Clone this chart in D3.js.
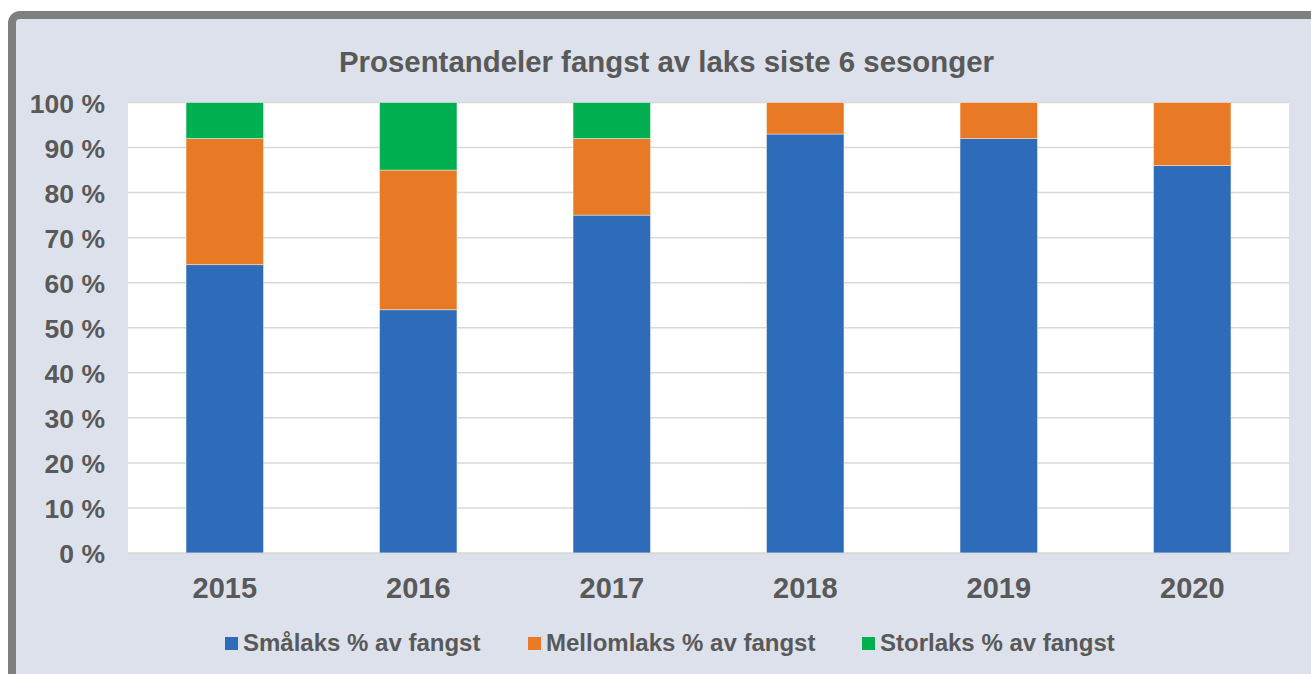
<!DOCTYPE html>
<html>
<head>
<meta charset="utf-8">
<script src="https://cdn.jsdelivr.net/npm/d3@7"></script>
<style>
  body { margin: 0; background: #fff; }
  svg text { font-family: Arial, "Liberation Sans", sans-serif; font-weight: bold; fill: #595959; }
</style>
</head>
<body>
<svg id="chart" width="1311" height="674"></svg>
<script>
// data
const years = ["2015", "2016", "2017", "2018", "2019", "2020"];
const smalaks = [64, 54, 75, 93, 92, 86];
const mellomlaks = [28, 31, 17, 7, 8, 14];
const storlaks = [8, 15, 8, 0, 0, 0];
const seriesNames = ["Smålaks % av fangst", "Mellomlaks % av fangst", "Storlaks % av fangst"];
const seriesColors = ["#2e6cba", "#e87a25", "#00af50"];
const yTicks = [0, 10, 20, 30, 40, 50, 60, 70, 80, 90, 100];

const svg = d3.select("#chart");

// outer frame (cut off at right and bottom like the original)
svg.append("rect")
    .attr("x", 12).attr("y", 15)
    .attr("width", 1340).attr("height", 700)
    .attr("rx", 8)
    .attr("fill", "#dce1eb")
    .attr("stroke", "#7f7f7f")
    .attr("stroke-width", 8);

const plot = { left: 128, top: 102.5, right: 1289, bottom: 553 };

svg.append("rect")
    .attr("x", plot.left).attr("y", plot.top)
    .attr("width", plot.right - plot.left)
    .attr("height", plot.bottom - plot.top)
    .attr("fill", "#fff");

const x = d3.scaleBand()
    .domain(years)
    .range([plot.left, plot.right])
    .paddingInner(0.6)
    .paddingOuter(0.3);

const y = d3.scaleLinear()
    .domain([0, 100])
    .range([plot.bottom, plot.top]);

// gridlines
svg.append("g")
    .selectAll("line")
    .data(yTicks)
    .join("line")
    .attr("x1", plot.left).attr("x2", plot.right)
    .attr("y1", d => y(d)).attr("y2", d => y(d))
    .attr("stroke", "#d9d9d9")
    .attr("stroke-width", 1.5);

// stacked bars
const rows = years.map((yr, i) => ({ year: yr, s0: smalaks[i], s1: mellomlaks[i], s2: storlaks[i] }));
const stack = d3.stack().keys(["s0", "s1", "s2"]);
const layers = stack(rows);

svg.append("g")
    .selectAll("g")
    .data(layers)
    .join("g")
    .attr("fill", (d, i) => seriesColors[i])
    .selectAll("rect")
    .data(d => d.filter(p => p[1] > p[0]))
    .join("rect")
    .attr("x", d => x(d.data.year))
    .attr("width", x.bandwidth())
    .attr("y", d => y(d[1]))
    .attr("height", d => y(d[0]) - y(d[1]))
    .attr("stroke", "rgba(255,255,255,0.5)")
    .attr("stroke-width", 0.8);

// y axis labels
const yAxis = d3.axisLeft(y)
    .tickValues(yTicks)
    .tickFormat(d => d + " %")
    .tickSize(0)
    .tickPadding(0);

svg.append("g")
    .attr("transform", "translate(105,0)")
    .call(yAxis)
    .call(g => g.select(".domain").remove())
    .selectAll("text")
    .attr("font-size", 26.5)
    .attr("font-family", null)
    .attr("dy", "0.36em");

// x axis labels
const xAxis = d3.axisBottom(x).tickSize(0).tickPadding(0);
svg.append("g")
    .attr("transform", `translate(0,${plot.bottom})`)
    .call(xAxis)
    .call(g => g.select(".domain").attr("stroke", "#d9d9d9").attr("stroke-width", 1.5))
    .selectAll("text")
    .attr("font-size", 29)
    .attr("font-family", null)
    .attr("y", 45)
    .attr("dy", 0);

// title
svg.append("text")
    .attr("x", 666.5)
    .attr("y", 72)
    .attr("text-anchor", "middle")
    .attr("font-size", 29.4)
    .text("Prosentandeler fangst av laks siste 6 sesonger");

// legend
const legendX = [225, 528, 862];
const legend = svg.append("g")
    .selectAll("g")
    .data(seriesNames)
    .join("g")
    .attr("transform", (d, i) => `translate(${legendX[i]},0)`);

legend.append("rect")
    .attr("x", 0).attr("y", 637)
    .attr("width", 13).attr("height", 13)
    .attr("fill", (d, i) => seriesColors[i]);

legend.append("text")
    .attr("x", 18)
    .attr("y", 651)
    .attr("font-size", 24)
    .text(d => d);
</script>
</body>
</html>
